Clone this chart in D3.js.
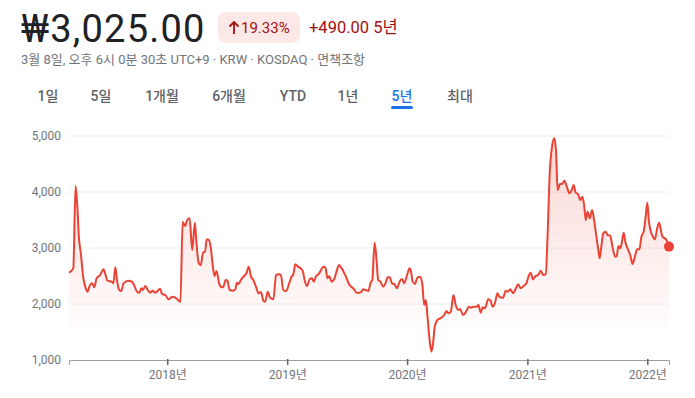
<!DOCTYPE html>
<head>
	<meta charset="utf-8">
	<title>KOSDAQ 5년</title>
	<style>
	body { margin: 0; background: #fff; }
	text { font-family: Roboto, "Noto Sans CJK KR", sans-serif; }
	.grid line { stroke: #eeeeee; }
	.axis text { fill: #70757a; font-size: 12px; }
	</style>
</head>
<body>
<script src="https://d3js.org/d3.v7.min.js"></script>
<script>

var width = 695, height = 398

// header
var price = "₩3,025.00"
var changePct = "19.33%"
var changeAbs = "+490.00 5년"
var subtitle = "3월 8일, 오후 6시 0분 30초 UTC+9 · KRW · KOSDAQ · 면책조항"
var tabs = ["1일", "5일", "1개월", "6개월", "YTD", "1년", "5년", "최대"]
var activeTab = "5년"

// series
var dates = [
	"2017-03-08","2017-03-21","2017-03-28","2017-04-03","2017-04-07","2017-04-13","2017-04-20","2017-04-28",
	"2017-05-03","2017-05-11","2017-05-18","2017-05-24","2017-05-31","2017-06-11","2017-06-21","2017-06-26",
	"2017-07-03","2017-07-16","2017-07-21","2017-07-27","2017-08-01","2017-08-08","2017-08-14","2017-08-21",
	"2017-09-05","2017-09-15","2017-09-22","2017-10-01","2017-10-08","2017-10-14","2017-10-19","2017-10-26",
	"2017-11-03","2017-11-10","2017-11-17","2017-11-26","2017-12-03","2017-12-10","2017-12-16","2017-12-26",
	"2018-01-05","2018-01-16","2018-01-24","2018-01-31","2018-02-10","2018-02-17","2018-02-24","2018-03-03",
	"2018-03-10","2018-03-18","2018-03-26","2018-03-31","2018-04-07","2018-04-13","2018-04-20","2018-04-26",
	"2018-05-01","2018-05-08","2018-05-13","2018-05-20","2018-05-25","2018-05-31","2018-06-08","2018-06-16",
	"2018-06-21","2018-06-28","2018-07-03","2018-07-10","2018-07-19","2018-07-27","2018-08-01","2018-08-06",
	"2018-08-13","2018-08-23","2018-08-30","2018-09-06","2018-09-13","2018-09-20","2018-09-28","2018-10-06",
	"2018-10-13","2018-10-21","2018-10-26","2018-11-03","2018-11-10","2018-11-20","2018-11-28","2018-12-06",
	"2018-12-13","2018-12-20","2018-12-29",
	"2019-01-07","2019-01-14","2019-01-19","2019-01-26","2019-02-03","2019-02-11","2019-02-18","2019-02-23",
	"2019-03-02","2019-03-10","2019-03-17","2019-03-23","2019-03-30","2019-04-07","2019-04-14","2019-04-21",
	"2019-04-27","2019-05-04","2019-05-09","2019-05-16","2019-05-24","2019-05-31","2019-06-08","2019-06-16",
	"2019-06-23","2019-07-01","2019-07-08","2019-07-17","2019-07-24","2019-07-31","2019-08-08","2019-08-15",
	"2019-08-20","2019-08-28","2019-09-05","2019-09-12","2019-09-17","2019-09-24","2019-09-30","2019-10-05",
	"2019-10-12","2019-10-20","2019-10-27","2019-11-03","2019-11-09","2019-11-16","2019-11-24","2019-12-01",
	"2019-12-09","2019-12-17","2019-12-23",
	"2020-01-01","2020-01-08","2020-01-13","2020-01-18","2020-01-25","2020-02-01","2020-02-09","2020-02-16",
	"2020-02-22","2020-02-27","2020-03-03","2020-03-10","2020-03-15","2020-03-20","2020-03-25","2020-04-02",
	"2020-04-09","2020-04-16","2020-04-23","2020-04-30","2020-05-06","2020-05-13","2020-05-21","2020-05-28",
	"2020-06-04","2020-06-10","2020-06-19","2020-06-25","2020-06-30","2020-07-07","2020-07-14","2020-07-22",
	"2020-07-30","2020-08-05","2020-08-12","2020-08-18","2020-08-25","2020-09-04","2020-09-11","2020-09-17",
	"2020-09-24","2020-10-02","2020-10-09","2020-10-19","2020-10-27","2020-11-02","2020-11-10","2020-11-19",
	"2020-11-27","2020-12-04","2020-12-12","2020-12-20","2020-12-29",
	"2021-01-06","2021-01-11","2021-01-18","2021-01-26","2021-02-03","2021-02-11","2021-02-18","2021-02-26",
	"2021-03-03","2021-03-10","2021-03-17","2021-03-24","2021-03-29","2021-04-03","2021-04-10","2021-04-16",
	"2021-04-24","2021-05-01","2021-05-09","2021-05-16","2021-05-22","2021-05-28","2021-06-04","2021-06-11",
	"2021-06-17","2021-06-22","2021-06-28","2021-07-03","2021-07-10","2021-07-17","2021-07-23","2021-07-30",
	"2021-08-05","2021-08-09","2021-08-14","2021-08-20","2021-08-27","2021-09-02","2021-09-10","2021-09-17",
	"2021-09-25","2021-09-30","2021-10-05","2021-10-11","2021-10-15","2021-10-21","2021-10-26","2021-11-03",
	"2021-11-10","2021-11-17","2021-11-24","2021-12-01","2021-12-08","2021-12-14","2021-12-21","2021-12-27",
	"2022-01-01","2022-01-06","2022-01-11","2022-01-18","2022-01-24","2022-01-31","2022-02-06","2022-02-11",
	"2022-02-16","2022-02-23","2022-02-28","2022-03-08"
]
var prices = [
	2559,2637,4107,3679,3202,2905,2488,2280,
	2220,2339,2369,2298,2459,2518,2619,2548,
	2417,2399,2369,2655,2429,2250,2232,2369,
	2417,2399,2339,2220,2202,2280,2250,2321,
	2250,2202,2238,2202,2238,2274,2179,2161,
	2083,2131,2119,2089,2036,3470,3393,3500,
	3530,2964,3452,3083,2726,2696,2917,2935,
	3155,3143,3024,2667,2500,2589,2369,2298,
	2310,2429,2417,2250,2238,2262,2381,2357,
	2429,2500,2548,2667,2488,2429,2310,2190,
	2214,2054,2041,2220,2110,2083,2518,2530,
	2518,2250,2232,
	2369,2488,2518,2708,2667,2637,2577,2429,
	2321,2440,2459,2399,2500,2536,2607,2667,
	2655,2459,2500,2399,2440,2577,2696,2637,
	2560,2459,2357,2298,2262,2202,2202,2220,
	2262,2250,2232,2381,2429,3095,2786,2429,
	2399,2310,2369,2476,2476,2369,2351,2280,
	2399,2446,2369,
	2518,2637,2577,2399,2357,2470,2488,2369,
	1982,2071,1774,1327,1149,1298,1595,1714,
	1738,1762,1804,1875,1833,1863,2161,1982,
	1893,1911,1804,1833,1881,1952,1934,1952,
	1952,1982,1845,1940,1923,2083,2059,1952,
	2012,2190,2119,2113,2238,2220,2262,2190,
	2280,2351,2280,2321,2369,
	2518,2560,2440,2500,2518,2595,2518,2536,
	3150,4333,4810,4958,4750,4036,4143,4143,
	4202,4095,3976,4036,4125,3988,3964,3857,
	3917,3798,3500,3649,3530,3679,3500,3202,
	2964,2815,3024,3262,3292,3232,3220,3024,
	2845,2857,3036,2994,3083,3274,3113,2976,
	2875,2714,2845,2976,2976,3202,3292,3560,
	3810,3470,3310,3202,3155,3351,3452,3333,
	3202,3173,3143,3025
]
var yTicks = [1000, 2000, 3000, 4000, 5000]
var startDate = "2017-03-08", endDate = "2022-03-08"

var parse = d3.timeParse("%Y-%m-%d")
var data = dates.map(function(d, i) { return { date: parse(d), value: prices[i] }; })

var svg = d3.select("body")
	.append("svg")
	.attr("width", width)
	.attr("height", height);

// ---- header ----
svg.append("text")
	.attr("x", 21).attr("y", 42)
	.attr("fill", "#202124")
	.style("font-size", "38px")
	.style("letter-spacing", "1.2px")
	.text(price);

svg.append("rect")
	.attr("x", 218).attr("y", 12)
	.attr("width", 82).attr("height", 31)
	.attr("rx", 8)
	.attr("fill", "#fce8e6");

svg.append("path")   // up arrow
	.attr("d", "M234,34 L234,22 M229.5,26.5 L234,22 L238.5,26.5")
	.attr("stroke", "#a50e0e")
	.attr("stroke-width", 1.8)
	.attr("fill", "none");

svg.append("text")
	.attr("x", 241).attr("y", 33)
	.attr("fill", "#a50e0e")
	.style("font-size", "15px")
	.text(changePct);

svg.append("text")
	.attr("x", 309).attr("y", 33)
	.attr("fill", "#a50e0e")
	.style("font-size", "16.5px")
	.text(changeAbs);

svg.append("text")
	.attr("x", 21).attr("y", 64)
	.attr("fill", "#70757a")
	.style("font-size", "13px")
	.text(subtitle);

var tabX = [48, 101, 162, 229, 293, 348, 402, 460]
tabs.forEach(function(t, i) {
	svg.append("text")
		.attr("x", tabX[i]).attr("y", 101)
		.attr("text-anchor", "middle")
		.attr("fill", t == activeTab ? "#1a73e8" : "#5f6368")
		.style("font-size", "14px")
		.style("font-weight", "500")
		.text(t);
	if (t == activeTab) {
		svg.append("rect")
			.attr("x", tabX[i] - 11).attr("y", 106)
			.attr("width", 22).attr("height", 3)
			.attr("rx", 1.5)
			.attr("fill", "#1a73e8");
	}
});

// ---- chart ----
var x = d3.scaleTime()
	.domain([parse(startDate), parse(endDate)])
	.range([69, 669]);

var y = d3.scaleLinear()
	.domain([1000, 5000])
	.range([360, 136]);

svg.append("g")
	.attr("class", "grid")
	.selectAll("line")
	.data(yTicks.slice(1))
	.enter().append("line")
	.attr("x1", 69).attr("x2", 669)
	.attr("y1", function(d) { return y(d); })
	.attr("y2", function(d) { return y(d); });

var yAxis = svg.append("g")
	.attr("class", "axis")
	.attr("transform", "translate(61,0)")
	.call(d3.axisLeft(y).tickValues(yTicks).tickFormat(d3.format(",")).tickSize(0));
yAxis.select(".domain").remove();
yAxis.selectAll("text").attr("x", 0);

var xAxis = svg.append("g")
	.attr("class", "axis")
	.attr("transform", "translate(0,360)")
	.call(d3.axisBottom(x).ticks(d3.timeYear.every(1)).tickFormat(d3.timeFormat("%Y년")).tickSizeOuter(0).tickSize(5));
xAxis.select(".domain").attr("stroke", "#9aa0a6");
xAxis.selectAll(".tick line").attr("stroke", "#5f6368").attr("stroke-width", 1.5).attr("y1", -1);
xAxis.selectAll(".tick text").attr("dy", "0.95em");

var defs = svg.append("defs");
var grad = defs.append("linearGradient")
	.attr("id", "fade")
	.attr("gradientUnits", "userSpaceOnUse")
	.attr("x1", 0).attr("x2", 0)
	.attr("y1", 136).attr("y2", 330);
grad.append("stop").attr("offset", 0).attr("stop-color", "#ea4335").attr("stop-opacity", 0.22);
grad.append("stop").attr("offset", 1).attr("stop-color", "#ea4335").attr("stop-opacity", 0.01);

var area = d3.area()
	.curve(d3.curveMonotoneX)
	.x(function(d) { return x(d.date); })
	.y0(330)
	.y1(function(d) { return y(d.value); });

svg.append("path")
	.datum(data)
	.attr("d", area)
	.attr("fill", "url(#fade)");

var line = d3.line()
	.curve(d3.curveMonotoneX)
	.x(function(d) { return x(d.date); })
	.y(function(d) { return y(d.value); });

svg.append("path")
	.datum(data)
	.attr("d", line)
	.attr("fill", "none")
	.attr("stroke", "#ea4335")
	.attr("stroke-width", 2)
	.attr("stroke-linejoin", "round");

var last = data[data.length - 1];
svg.append("circle")
	.attr("cx", x(last.date))
	.attr("cy", y(last.value))
	.attr("r", 5)
	.attr("fill", "#ea4335");

</script>
